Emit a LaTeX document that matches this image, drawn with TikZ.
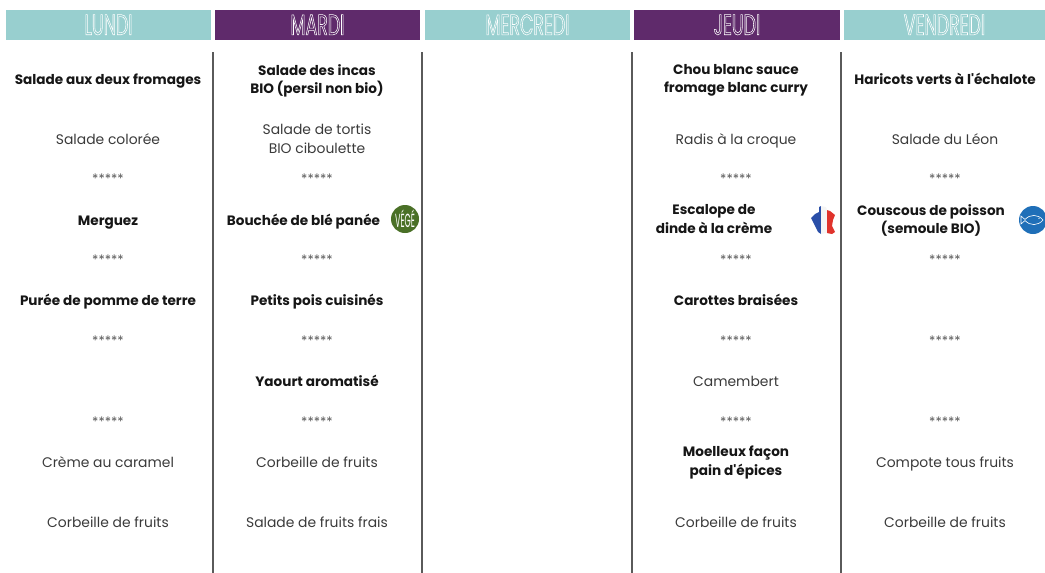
\documentclass[tikz,border=0pt]{standalone}
\usepackage{fontspec}
\setmainfont{Poppins}[Ligatures=TeXOff]
\newfontfamily\headfont[FakeStretch=0.6,FakeBold=1.9]{Poppins}
\newfontfamily\badgefont[FakeStretch=0.42]{Poppins}
\newcommand{\outlined}[2]{{\color{#1}\special{pdf:code 1 1 1 RG}#2}}
\definecolor{teal1}{HTML}{98CFCF}
\definecolor{purp}{HTML}{5F2A6B}
\definecolor{ink}{HTML}{161616}
\definecolor{soft}{HTML}{3A3A3A}
\definecolor{rule1}{HTML}{5A5A5A}
\definecolor{veg}{HTML}{4A7027}
\definecolor{fish}{HTML}{1F6FB8}
\definecolor{fr1}{HTML}{2A4FA8}
\definecolor{fr2}{HTML}{E0332C}
\tikzset{
  band/.style={minimum height=29.5pt,inner sep=0pt,outer sep=0pt,anchor=north west,font=\headfont\fontsize{29}{29}\selectfont},
  cell/.style={align=center,inner sep=0pt,yshift=-1pt,execute at begin node=\strut,execute at end node=\strut},
  dish/.style={cell,yshift=-0.7pt,text=soft,font=\fontsize{13.9}{18.6}\selectfont},
  star/.style={cell,yshift=-1pt,text=soft!85,font=\fontsize{13}{12}\selectfont},
  main/.style={cell,yshift=-0.7pt,text=ink,font=\fontsize{13.6}{18.6}\selectfont\bfseries},
  sep/.style={draw=rule1,line width=2pt}
}
\begin{document}
\begin{tikzpicture}[x=1pt,y=-1pt]
\useasboundingbox (0,0) rectangle (1045,573);
\clip (0,0) rectangle (1045,573);
% headers
\node[band,fill=teal1,minimum width=205pt] (h1) at (6,10) {\outlined{teal1}{LUNDI}};
\node[band,fill=purp,minimum width=205pt] (h2) at (215,10) {\outlined{purp}{MARDI}};
\node[band,fill=teal1,minimum width=205pt] (h3) at (425,10) {\outlined{teal1}{MERCREDI}};
\node[band,fill=purp,minimum width=206pt] (h4) at (634,10) {\outlined{purp}{JEUDI}};
\node[band,fill=teal1,minimum width=201pt] (h5) at (844,10) {\outlined{teal1}{VENDREDI}};
% column rules
\foreach \n/\x in {a/212.6,b/421.8,c/631.6,d/840.8}{
  \coordinate (t\n) at (\x,52);
  \coordinate (b\n) at (\x,573);
  \draw[sep] (t\n) -- (b\n);
}
% Lundi
\node[main] (l1) at (108,79) {Salade aux deux fromages};
\node[dish] (l2) at (108,139) {Salade colorée};
\node[star] (l3) at (108,179) {*****};
\node[main] (l4) at (108,220) {Merguez};
\node[star] (l5) at (108,260) {*****};
\node[main] (l6) at (108,300) {Purée de pomme de terre};
\node[star] (l7) at (108,341) {*****};
\node[star] (l8) at (108,422) {*****};
\node[dish] (l9) at (108,462) {Crème au caramel};
\node[dish] (l10) at (108,522) {Corbeille de fruits};
% Mardi
\node[main] (m1) at (317,80) {Salade des incas\\BIO (persil non bio)};
\node[dish] (m2) at (317,139.5) {Salade de tortis\\BIO ciboulette};
\node[star] (m3) at (317,179) {*****};
\node[main] (m4) at (303.5,220) {Bouchée de blé panée};
\node[star] (m5) at (317,260) {*****};
\node[main] (m6) at (317,300) {Petits pois cuisinés};
\node[star] (m7) at (317,341) {*****};
\node[main] (m8) at (317,381) {Yaourt aromatisé};
\node[star] (m9) at (317,422) {*****};
\node[dish] (m10) at (317,462) {Corbeille de fruits};
\node[dish] (m11) at (317,522) {Salade de fruits frais};
% Jeudi
\node[main] (j1) at (736,79.5) {Chou blanc sauce\\fromage blanc curry};
\node[dish] (j2) at (736,139) {Radis à la croque};
\node[star] (j3) at (736,179) {*****};
\node[main] (j4) at (714,220) {Escalope de\\dinde à la crème};
\node[star] (j5) at (736,260) {*****};
\node[main] (j6) at (736,300) {Carottes braisées};
\node[star] (j7) at (736,341) {*****};
\node[dish] (j8) at (736,381) {Camembert};
\node[star] (j9) at (736,422) {*****};
\node[main] (j10) at (736,462) {Moelleux façon\\pain d'épices};
\node[dish] (j11) at (736,522) {Corbeille de fruits};
% Vendredi
\node[main] (v1) at (945,79) {Haricots verts à l'échalote};
\node[dish] (v2) at (945,139) {Salade du Léon};
\node[star] (v3) at (945,179) {*****};
\node[main] (v4) at (931,220) {Couscous de poisson\\(semoule BIO)};
\node[star] (v5) at (945,260) {*****};
\node[star] (v6) at (945,341) {*****};
\node[star] (v7) at (945,422) {*****};
\node[dish] (v8) at (945,462) {Compote tous fruits};
\node[dish] (v9) at (945,522) {Corbeille de fruits};
% Vege badge
\node[circle,fill=veg,minimum size=28pt,inner sep=0pt,text=white,font=\badgefont\fontsize{19}{19}\selectfont] (vg) at (405,219) {VÉGÉ};
% France flag
\begin{scope}
\fill[fr1] (811,218) -- (815,214) -- (819,212) -- (819,207) -- (821,206) -- (821,234) -- (818,232) -- (815,226) -- cycle;
\fill[white!92!gray] (821,206) -- (826,207) -- (827,210) -- (827,233) -- (821,234) -- cycle;
\fill[fr2] (827,210) -- (830,211) -- (835,215) -- (833,220) -- (832,226) -- (835,232) -- (832,234) -- (827,233) -- cycle;
\end{scope}
% Fish badge
\node[circle,fill=fish,minimum size=28pt,inner sep=0pt] (fb) at (1033,220) {};
\draw[white,line width=0.6pt] (1021,216) -- (1025,219.5) .. controls (1030,214) and (1038,214) .. (1043,220) .. controls (1038,226) and (1030,226) .. (1025,220.5) -- (1021,224) -- cycle;
\fill[white] (1039,218.5) circle (0.7);
\end{tikzpicture}
\end{document}
